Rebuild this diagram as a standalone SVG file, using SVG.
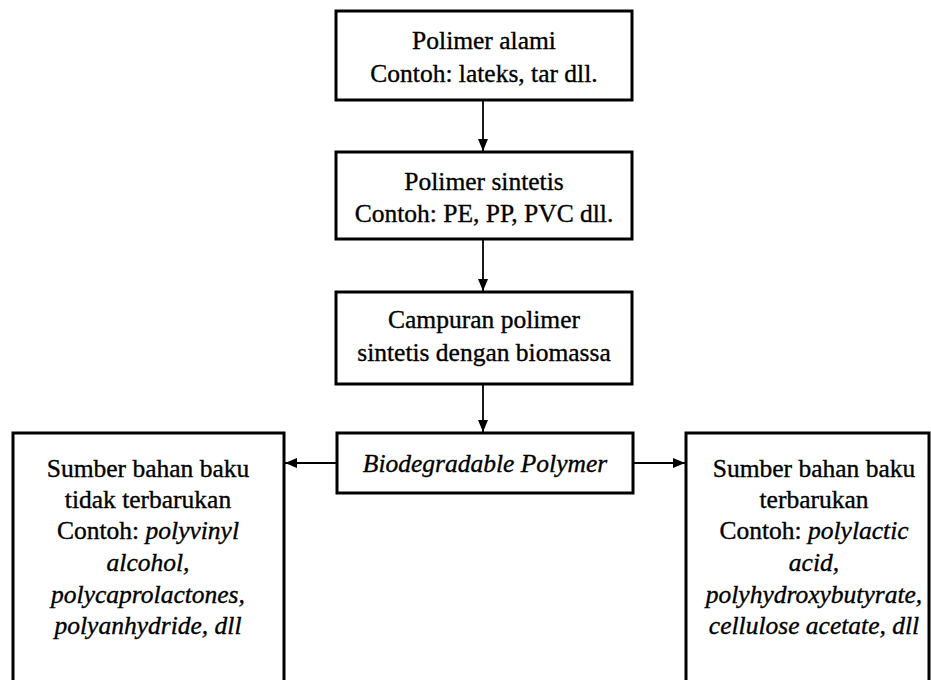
<svg xmlns="http://www.w3.org/2000/svg" width="931" height="680" viewBox="0 0 931 680">
<style>
.box{fill:#fff;stroke:#000;stroke-width:3}
text{font-family:"Liberation Serif","Times New Roman",serif;font-size:25.5px;fill:#000;stroke:#000;stroke-width:0.35;text-anchor:middle}
.i{font-style:italic}
.con{stroke:#000;stroke-width:1.8;fill:none}
</style>
<defs>
<marker id="ah" viewBox="0 0 12 10" refX="12" refY="5" markerWidth="12" markerHeight="10" markerUnits="userSpaceOnUse" orient="auto">
<path d="M0,0 L12,5 L0,10 Z" fill="#000"/>
</marker>
</defs>
<rect width="931" height="680" fill="#fff"/>
<g id="connectors">
<line class="con" x1="483" y1="101" x2="483" y2="151" marker-end="url(#ah)"/>
<line class="con" x1="483" y1="240" x2="483" y2="291" marker-end="url(#ah)"/>
<line class="con" x1="483" y1="385" x2="483" y2="432" marker-end="url(#ah)"/>
<line class="con" x1="336" y1="463" x2="285" y2="463" marker-end="url(#ah)"/>
<line class="con" x1="634" y1="463" x2="685" y2="463" marker-end="url(#ah)"/>
</g>
<g id="polimer-alami">
<rect class="box" x="336" y="11" width="296" height="89"/>
<text x="484" y="49">Polimer alami</text>
<text x="484" y="82">Contoh: lateks, tar dll.</text>
</g>
<g id="polimer-sintetis">
<rect class="box" x="336" y="152" width="296" height="87"/>
<text x="484" y="190">Polimer sintetis</text>
<text x="484" y="222">Contoh: PE, PP, PVC dll.</text>
</g>
<g id="campuran">
<rect class="box" x="336" y="292" width="296" height="92"/>
<text x="484" y="328">Campuran polimer</text>
<text x="484" y="361">sintetis dengan biomassa</text>
</g>
<g id="biodegradable">
<rect class="box" x="337" y="433" width="296" height="60"/>
<text class="i" x="485" y="472">Biodegradable Polymer</text>
</g>
<g id="tidak-terbarukan">
<rect class="box" x="13" y="433" width="271" height="260"/>
<text x="148" y="477">Sumber bahan baku</text>
<text x="148" y="508">tidak terbarukan</text>
<text x="148" y="539">Contoh: <tspan class="i">polyvinyl</tspan></text>
<text class="i" x="148" y="571">alcohol,</text>
<text class="i" x="148" y="603">polycaprolactones,</text>
<text class="i" x="148" y="634">polyanhydride, dll</text>
</g>
<g id="terbarukan">
<rect class="box" x="686" y="433" width="243" height="260"/>
<text x="814" y="477">Sumber bahan baku</text>
<text x="814" y="508">terbarukan</text>
<text x="814" y="539">Contoh: <tspan class="i">polylactic</tspan></text>
<text class="i" x="814" y="571">acid,</text>
<text class="i" x="814" y="603">polyhydroxybutyrate,</text>
<text class="i" x="814" y="634">cellulose acetate, dll</text>
</g>
</svg>
